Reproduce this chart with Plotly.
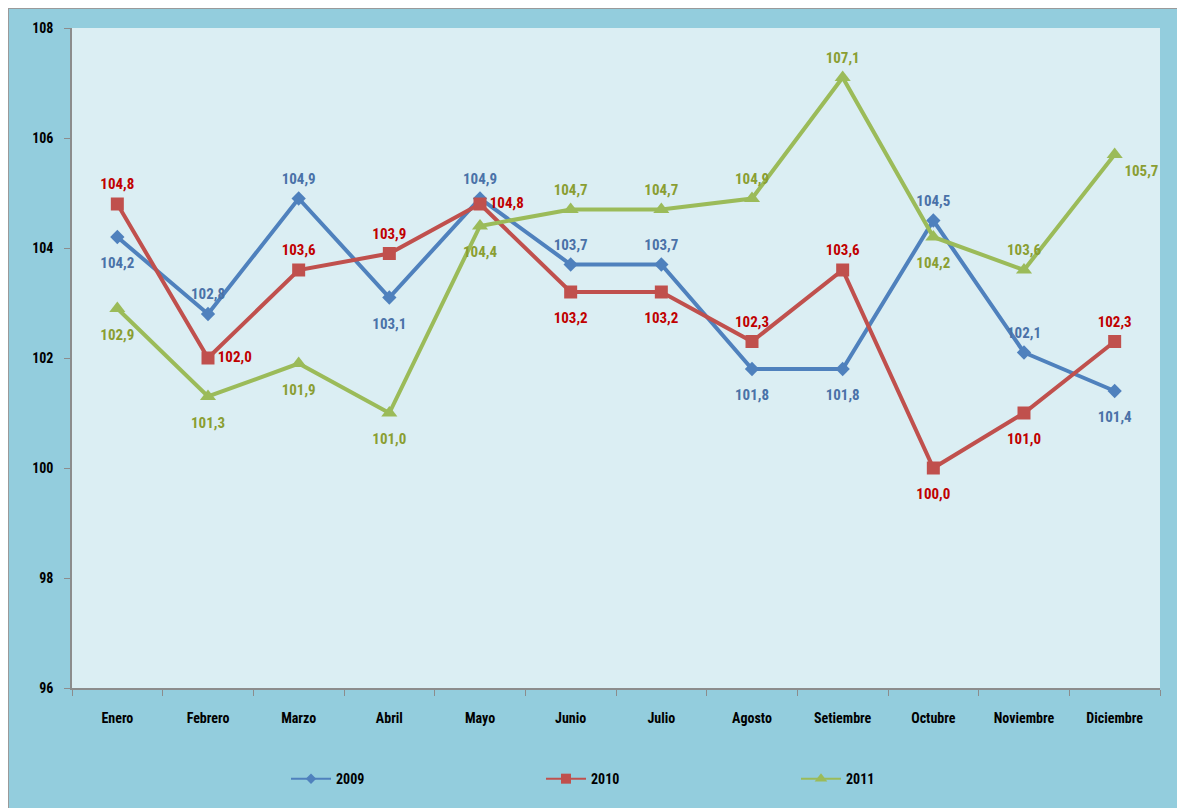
import plotly.graph_objects as go

months = ["Enero", "Febrero", "Marzo", "Abril", "Mayo", "Junio", "Julio",
          "Agosto", "Setiembre", "Octubre", "Noviembre", "Diciembre"]
v2009 = [104.2, 102.8, 104.9, 103.1, 104.9, 103.7, 103.7, 101.8, 101.8, 104.5, 102.1, 101.4]
v2010 = [104.8, 102.0, 103.6, 103.9, 104.8, 103.2, 103.2, 102.3, 103.6, 100.0, 101.0, 102.3]
v2011 = [102.9, 101.3, 101.9, 101.0, 104.4, 104.7, 104.7, 104.9, 107.1, 104.2, 103.6, 105.7]
y_ticks = [96, 98, 100, 102, 104, 106, 108]

pos2009 = ["bottom center", "top center", "top center", "bottom center", "top center", "top center",
           "top center", "bottom center", "bottom center", "top center", "top center", "bottom center"]
pos2010 = ["top center", "middle right", "top center", "top center", "middle right", "bottom center",
           "bottom center", "top center", "top center", "bottom center", "bottom center", "top center"]
pos2011 = ["bottom center", "bottom center", "bottom center", "bottom center", "bottom center", "top center",
           "top center", "top center", "top center", "bottom center", "top center", "bottom right"]


def fmt(vals):
    return [f"{v:.1f}".replace(".", ",") for v in vals]


def spacer_size(p):
    if p == "bottom center":
        return 30
    if p == "top center":
        return 16
    return 14


FONT = "Liberation Sans Narrow, Arial Narrow, Roboto Condensed, sans-serif"

fig = go.Figure()
series = [
    ("2009", v2009, pos2009, "#4F81BD", "#4A72A8", "diamond", 11),
    ("2010", v2010, pos2010, "#C0504D", "#C00000", "square", 13),
    ("2011", v2011, pos2011, "#9BBB59", "#8A9E32", "triangle-up", 14),
]
for name, vals, pos, col, tcol, sym, ms in series:
    fig.add_trace(go.Scatter(
        x=months, y=vals, name=name, mode="lines+markers",
        line=dict(color=col, width=4),
        marker=dict(symbol=sym, size=ms, color=col),
        cliponaxis=False, showlegend=False,
    ))
# data labels (invisible spacer markers control distance from the points)
for name, vals, pos, col, tcol, sym, ms in series:
    fig.add_trace(go.Scatter(
        x=months, y=vals, mode="markers+text",
        text=fmt(vals), textposition=pos,
        textfont=dict(family=FONT, size=15, color=tcol, weight="bold"),
        marker=dict(size=[spacer_size(p) for p in pos], color="rgba(0,0,0,0)",
                    line=dict(width=0, color="rgba(0,0,0,0)")),
        cliponaxis=False, showlegend=False, hoverinfo="skip",
    ))
# legend entries with thin lines and small markers, as in the original
for name, vals, pos, col, tcol, sym, ms in series:
    fig.add_trace(go.Scatter(
        x=[months[0]], y=[None], name=name, mode="lines+markers",
        line=dict(color=col, width=2),
        marker=dict(symbol=sym, size=ms - 3, color=col),
        showlegend=True,
    ))

# thin gray border on top and left of the outer frame
fig.add_shape(type="line", xref="paper", yref="paper", x0=-64 / 1088, x1=1.03, y0=1 + 20 / 660, y1=1 + 20 / 660,
              line=dict(color="#9A9A9A", width=2))
fig.add_shape(type="line", xref="paper", yref="paper", x0=-64 / 1088, x1=-64 / 1088, y0=-0.2, y1=1 + 20 / 660,
              line=dict(color="#9A9A9A", width=2))

fig.update_layout(
    width=1177, height=800,
    margin=dict(l=64, r=25, t=20, b=120, autoexpand=False),
    paper_bgcolor="#93CDDD",
    plot_bgcolor="#DBEEF3",
    font=dict(family=FONT, color="black"),
    showlegend=True,
    legend=dict(orientation="h", x=(278 - 64) / 1088, xanchor="left", y=-0.138, yanchor="middle",
                entrywidth=200, entrywidthmode="pixels",
                font=dict(family=FONT, size=14, color="black", weight="bold"),
                bgcolor="rgba(0,0,0,0)", itemwidth=40),
    xaxis=dict(range=[-0.5, 11.5], showgrid=False, showline=True, linecolor="#8C8C8C", linewidth=1.5,
               ticks="outside", tickson="boundaries", ticklen=6, tickcolor="#8C8C8C",
               tickfont=dict(family=FONT, size=14, color="black", weight="bold"),
               ticklabelstandoff=16, zeroline=False),
    yaxis=dict(range=[96, 108], tickvals=y_ticks, ticktext=[str(t) for t in y_ticks],
               showgrid=False, showline=True, linecolor="#8C8C8C", linewidth=1.5,
               ticks="outside", ticklen=6, tickcolor="#8C8C8C",
               tickfont=dict(family=FONT, size=14, color="black", weight="bold"),
               ticklabelstandoff=8, zeroline=False),
)

fig.write_html("out.html")
